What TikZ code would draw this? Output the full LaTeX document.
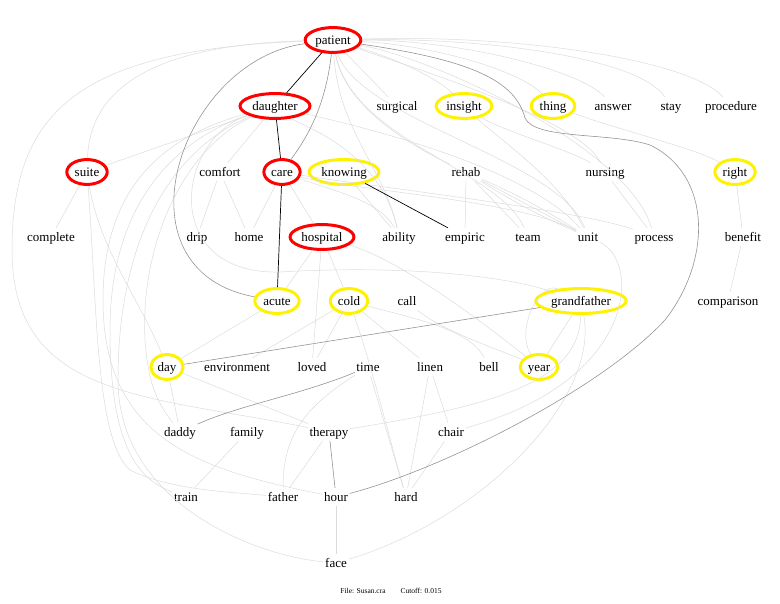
\documentclass[tikz,border=0pt]{standalone}
\usepackage{fontspec}
\setmainfont{Liberation Serif}
\usetikzlibrary{shapes.geometric}

\begin{document}
\begin{tikzpicture}[
    x=1pt, y=-1pt,
    mot/.style={
        font=\fontsize{13}{15}\selectfont,
        inner sep=1.5pt,
        text height=12pt,
        text depth=3pt
    },
    rouge/.style={
        mot,
        ellipse,
        draw=red,
        line width=3pt,
        inner xsep=2pt,
        inner ysep=1.3pt
    },
    jaune/.style={
        mot,
        ellipse,
        draw=yellow,
        line width=3pt,
        inner xsep=2pt,
        inner ysep=1.3pt
    },
    lien/.style={
        draw=black!14,
        line width=0.5pt
    },
    liengris/.style={
        draw=black!42,
        line width=0.6pt
    },
    lienfort/.style={
        draw=black,
        line width=0.7pt
    },
    pied/.style={
        font=\fontsize{7.5}{9}\selectfont
    }
]

\useasboundingbox (0,0) rectangle (780,604);

% Row 1
\node[rouge] (patient) at (333,40) {patient};

% Row 2
\node[rouge] (daughter) at (275,106) {daughter};
\node[mot] (surgical) at (397,106) {surgical};
\node[jaune] (insight) at (464,106) {insight};
\node[jaune] (thing) at (553,106) {thing};
\node[mot] (answer) at (613,106) {answer};
\node[mot] (stay) at (671,106) {stay};
\node[mot] (procedure) at (731,106) {procedure};

% Row 3
\node[rouge] (suite) at (87,172) {suite};
\node[mot] (comfort) at (220,172) {comfort};
\node[rouge] (care) at (282,172) {care};
\node[jaune] (knowing) at (344,172) {knowing};
\node[mot] (rehab) at (466,172) {rehab};
\node[mot] (nursing) at (605,172) {nursing};
\node[jaune] (right) at (735,172) {right};

% Row 4
\node[mot] (complete) at (51,237) {complete};
\node[mot] (drip) at (197,237) {drip};
\node[mot] (home) at (249,237) {home};
\node[rouge] (hospital) at (322,237) {hospital};
\node[mot] (ability) at (399,237) {ability};
\node[mot] (empiric) at (465,237) {empiric};
\node[mot] (team) at (528,237) {team};
\node[mot] (unit) at (588,237) {unit};
\node[mot] (process) at (654,237) {process};
\node[mot] (benefit) at (743,237) {benefit};

% Row 5
\node[jaune] (acute) at (277,301) {acute};
\node[jaune] (cold) at (349,301) {cold};
\node[mot] (call) at (407,301) {call};
\node[jaune] (grandfather) at (581,301) {grandfather};
\node[mot] (comparison) at (728,301) {comparison};

% Row 6
\node[jaune] (day) at (167,367) {day};
\node[mot] (environment) at (237,367) {environment};
\node[mot] (loved) at (312,367) {loved};
\node[mot] (time) at (368,367) {time};
\node[mot] (linen) at (430,367) {linen};
\node[mot] (bell) at (489,367) {bell};
\node[jaune] (year) at (539,367) {year};

% Row 7
\node[mot] (daddy) at (180,432) {daddy};
\node[mot] (family) at (247,432) {family};
\node[mot] (therapy) at (329,432) {therapy};
\node[mot] (chair) at (451,432) {chair};

% Row 8
\node[mot] (train) at (186,497) {train};
\node[mot] (father) at (283,497) {father};
\node[mot] (hour) at (336,497) {hour};
\node[mot] (hard) at (406,497) {hard};

% Row 9
\node[mot] (face) at (336,563) {face};

% Footer
\node[pied] (fichier) at (391,591) {File: Susan.cra\qquad Cutoff: 0.015};

% Faint links from patient
\draw[lien] (patient) -- (surgical);
\draw[lien] (patient) .. controls (400,60) and (440,80) .. (insight);
\draw[lien] (patient) .. controls (430,45) and (520,70) .. (thing);
\draw[lien] (patient) .. controls (460,40) and (580,70) .. (answer);
\draw[lien] (patient) .. controls (500,38) and (640,60) .. (stay);
\draw[lien] (patient) .. controls (520,34) and (690,60) .. (procedure);
\draw[lien] (patient) .. controls (345,110) and (420,150) .. (rehab);
\draw[lien] (patient) .. controls (338,130) and (385,170) .. (ability);
\draw[lien] (patient) .. controls (352,140) and (500,170) .. (team);
\draw[lien] (patient) .. controls (360,120) and (560,160) .. (unit);
\draw[lien] (patient) .. controls (420,70) and (580,120) .. (nursing);
\draw[lien] (patient) .. controls (440,60) and (630,150) .. (process);
\draw[lien] (patient) .. controls (150,45) and (90,90) .. (suite);
\draw[lien] (patient) .. controls (80,50) and (12,110) .. (12,250)
    .. controls (12,400) and (150,395) .. (therapy);

% Faint links from daughter
\draw[lien] (daughter) -- (suite);
\draw[lien] (daughter) -- (comfort);
\draw[lien] (daughter) .. controls (300,125) and (380,150) .. (ability);
\draw[lien] (daughter) .. controls (330,120) and (520,160) .. (unit);
\draw[lien] (daughter) .. controls (150,140) and (103,200) .. (103,300)
    .. controls (103,440) and (200,470) .. (hour);
\draw[lien] (daughter) .. controls (160,145) and (110,220) .. (110,330)
    .. controls (110,450) and (140,480) .. (train);
\draw[lien] (daughter) .. controls (170,150) and (118,240) .. (118,380)
    .. controls (118,500) and (250,555) .. (face);
\draw[lien] (daughter) .. controls (180,150) and (140,250) .. (145,340)
    .. controls (148,380) and (155,400) .. (daddy);
\draw[lien] (daughter) .. controls (175,140) and (160,275) .. (280,272)
    .. controls (400,265) and (500,275) .. (grandfather);

% Faint links, upper rows
\draw[lien] (suite) -- (complete);
\draw[lien] (suite) .. controls (100,250) and (140,300) .. (day);
\draw[lien] (suite) .. controls (97,300) and (95,440) .. (130,470)
    .. controls (170,490) and (230,492) .. (father);
\draw[lien] (comfort) -- (drip);
\draw[lien] (comfort) -- (home);
\draw[lien] (care) -- (home);
\draw[lien] (care) -- (hospital);
\draw[lien] (care) .. controls (330,190) and (380,200) .. (ability);
\draw[lien] (care) .. controls (350,190) and (520,200) .. (unit);
\draw[lien] (care) .. controls (360,185) and (580,210) .. (process);
\draw[lien] (knowing) -- (ability);
\draw[lien] (insight) .. controls (500,130) and (570,150) .. (nursing);
\draw[lien] (insight) .. controls (500,140) and (560,180) .. (unit);
\draw[lien] (thing) .. controls (620,130) and (700,150) .. (right);
\draw[lien] (right) -- (benefit);
\draw[lien] (benefit) -- (comparison);
\draw[lien] (rehab) -- (empiric);
\draw[lien] (rehab) -- (team);
\draw[lien] (rehab) to[bend left=4] (unit);
\draw[lien] (rehab) -- (unit);
\draw[lien] (rehab) to[bend right=4] (unit);
\draw[lien] (nursing) -- (process);

% Faint links, middle rows
\draw[lien] (hospital) -- (acute);
\draw[lien] (hospital) -- (cold);
\draw[lien] (hospital) -- (loved);
\draw[lien] (hospital) .. controls (400,260) and (480,320) .. (year);
\draw[lien] (acute) -- (day);
\draw[lien] (cold) -- (environment);
\draw[lien] (cold) -- (loved);
\draw[lien] (cold) -- (linen);
\draw[lien] (cold) .. controls (420,320) and (470,330) .. (bell);
\draw[lien] (cold) .. controls (370,360) and (390,440) .. (hard);
\draw[lien] (call) .. controls (440,330) and (500,350) .. (year);
\draw[lien] (grandfather) -- (year);
\draw[lien] (grandfather) .. controls (540,280) and (515,330) .. (year);
\draw[lien] (grandfather) .. controls (580,380) and (500,405) .. (therapy);
\draw[lien] (unit) .. controls (640,260) and (640,380) .. (chair);
\draw[lien] (face) .. controls (480,520) and (600,400) .. (grandfather);

% Faint links, lower rows
\draw[lien] (time) -- (hard);
\draw[lien] (time) .. controls (300,410) and (283,440) .. (father);
\draw[lien] (linen) -- (hard);
\draw[lien] (linen) -- (chair);
\draw[lien] (chair) -- (hard);
\draw[lien] (day) -- (daddy);
\draw[lien] (day) -- (therapy);
\draw[lien] (family) -- (train);
\draw[lien] (therapy) -- (father);
\draw[lien] (hour) -- (face);

% Grey links
\draw[liengris] (patient) .. controls (180,60) and (110,270) .. (acute);
\draw[liengris] (patient) .. controls (325,110) and (305,140) .. (care);
\draw[liengris] (patient) .. controls (470,60) and (515,80) .. (525,118)
    .. controls (535,140) and (610,132) .. (650,145)
    .. controls (712,175) and (712,260) .. (665,320)
    .. controls (600,390) and (440,470) .. (hour);
\draw[liengris] (grandfather) -- (day);
\draw[liengris] (time) .. controls (300,395) and (240,405) .. (daddy);
\draw[liengris] (therapy) -- (hour);

% Strong links
\draw[lienfort] (patient) -- (daughter);
\draw[lienfort] (daughter) -- (care);
\draw[lienfort] (care) -- (acute);
\draw[lienfort] (knowing) -- (empiric);

\end{tikzpicture}
\end{document}
